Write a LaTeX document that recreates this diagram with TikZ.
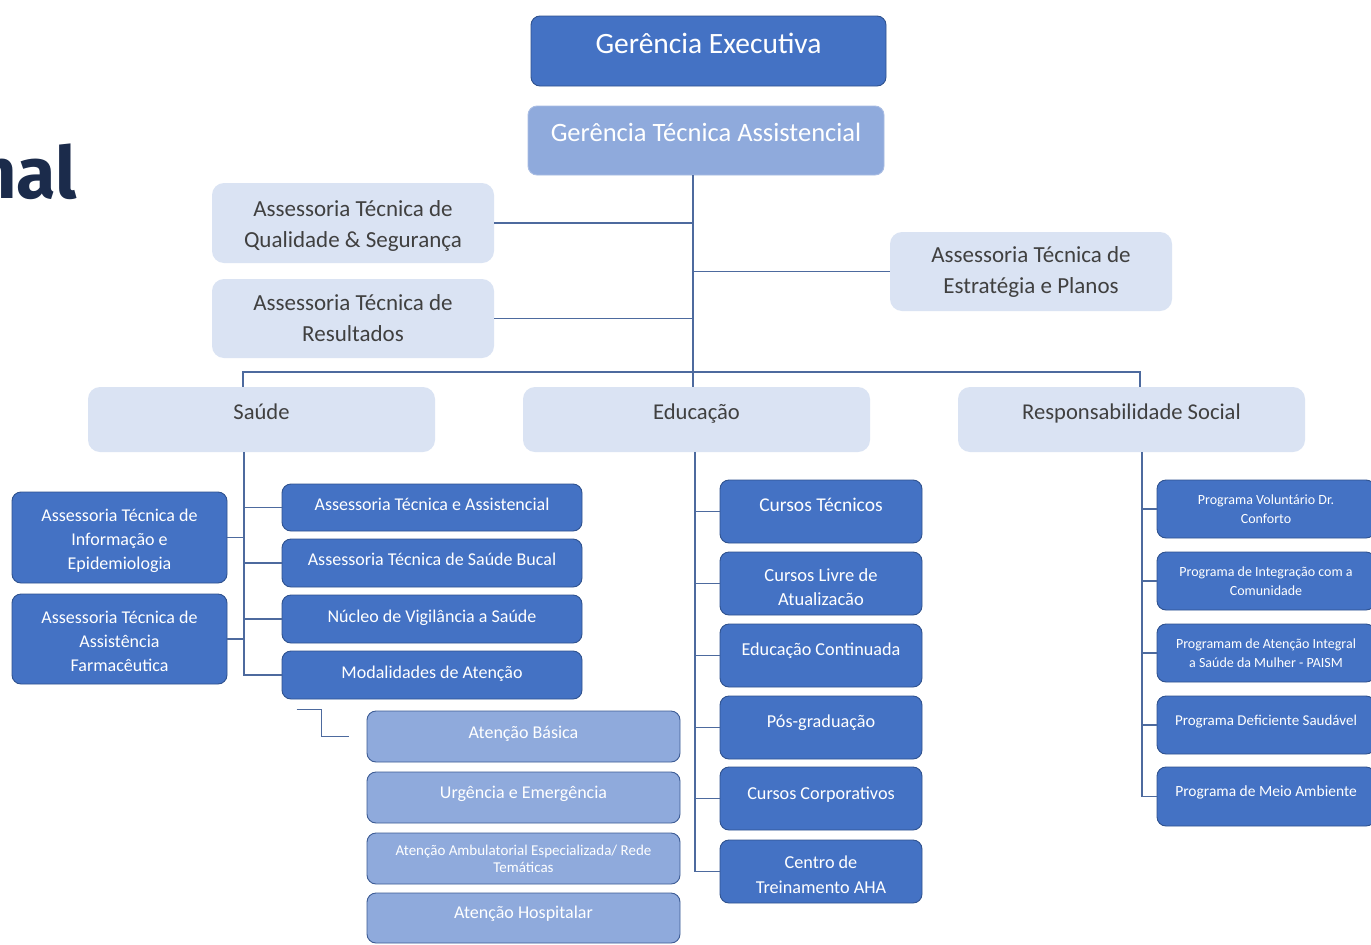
\documentclass[tikz,border=0pt]{standalone}
\usepackage{fontspec}
\setmainfont{Carlito}
\newfontfamily\titlefont{Fira Sans}
\usepackage{tikz}

\definecolor{dkblue}{HTML}{4472C4}
\definecolor{dkline}{HTML}{2F528F}
\definecolor{midblue}{HTML}{8FAADC}
\definecolor{subline}{HTML}{3D5C95}
\definecolor{gtaline}{HTML}{A9BDE3}
\definecolor{paleblue}{HTML}{DAE3F3}
\definecolor{paletext}{HTML}{404040}
\definecolor{connc}{HTML}{4D6A9E}
\definecolor{titlec}{HTML}{1B2B4B}

\begin{document}
\begin{tikzpicture}[x=1pt,y=-1pt,
	conn/.style={draw=connc,line width=1.4pt},
	dark/.style={draw=dkline,fill=dkblue,text=white,line width=0.9pt,rounded corners=9pt},
	mid/.style={draw=subline,fill=midblue,text=white,line width=0.9pt,rounded corners=9pt},
	pale/.style={fill=paleblue,text=paletext,rounded corners=12pt},
	sz/.style 2 args={minimum width=#1,minimum height=#2,inner sep=0pt},
	bl/.style={text height=#1,text depth=0pt}, bl/.default=0pt,
	fs/.style 2 args={font=\fontsize{#1}{#2}\selectfont,align=center}]
	\useasboundingbox (0,0) rectangle (1371,945);
	\fill[white] (0,0) rectangle (1371,945);
	\node[anchor=base east,inner sep=0pt,text=titlec,font=\titlefont\bfseries\fontsize{72}{80}\selectfont] (ttl) at (77,198) {nal};
	% top of the chart
	\node[dark,sz={355}{70},bl=4pt,fs={29.5}{34}] (ge) at (708.5,51) {Gerência Executiva};
	\node[mid,draw=gtaline,sz={356}{69},bl=2pt,fs={26.5}{30}] (gta) at (706,140.5) {Gerência Técnica Assistencial};
	\node[pale,sz={282}{80},fs={23}{31}] (qual) at (353,223) {\rule{0pt}{22pt}Assessoria Técnica de\\Qualidade \& Segurança};
	\node[pale,sz={282}{79},fs={23}{31}] (res) at (353,318.5) {Assessoria Técnica de\\Resultados};
	\node[pale,sz={282}{79},fs={23}{31}] (estr) at (1031,271.5) {Assessoria Técnica de\\Estratégia e Planos};
	\node[pale,sz={347}{65},bl,fs={22.6}{27}] (saude) at (261.5,419.5) {Saúde};
	\node[pale,sz={347}{65},bl,fs={22.6}{27}] (educ) at (696.5,419.5) {Educação};
	\node[pale,sz={347}{65},bl,fs={22.6}{27}] (resp) at (1131.5,419.5) {Responsabilidade Social};
	% saude
	\node[dark,sz={300}{47},bl=5pt,fs={18}{24}] (ata) at (432,507.5) {Assessoria Técnica e Assistencial};
	\node[dark,sz={300}{48},bl=4pt,fs={18}{24}] (bucal) at (432,563) {Assessoria Técnica de Saúde Bucal};
	\node[dark,sz={300}{48},bl=7pt,fs={18}{24}] (nucleo) at (432,619) {Núcleo de Vigilância a Saúde};
	\node[dark,sz={300}{48},bl=6pt,fs={18}{24}] (modal) at (432,675) {Modalidades de Atenção};
	\node[dark,sz={215}{91},fs={18}{24}] (info) at (119.5,537.5) {\rule{0pt}{19pt}Assessoria Técnica de\\Informação e\\Epidemiologia};
	\node[dark,sz={215}{90},fs={18}{24}] (farm) at (119.5,639) {\rule{0pt}{17.5pt}Assessoria Técnica de\\Assistência\\Farmacêutica};
	\node[mid,sz={313}{51},bl=3pt,fs={18}{24}] (basica) at (523.5,736.5) {Atenção Básica};
	\node[mid,sz={313}{51},bl=1pt,fs={18}{24}] (urg) at (523.5,797.5) {Urgência e Emergência};
	\node[mid,sz={313}{51},fs={15}{17}] (amb) at (523.5,858.5) {Atenção Ambulatorial Especializada/ Rede\\Temáticas};
	\node[mid,sz={313}{50},bl,fs={18}{24}] (hosp) at (523.5,918) {Atenção Hospitalar};
	% educacao
	\node[dark,sz={202}{63},bl,fs={19.5}{24}] (ct) at (821,511.5) {Cursos Técnicos};
	\node[dark,sz={202}{63},fs={18.5}{24}] (clv) at (821,583.5) {\rule{0pt}{21pt}Cursos Livre de\\Atualizacão};
	\node[dark,sz={202}{63},bl,fs={18.2}{24}] (ec) at (821,655.5) {Educação Continuada};
	\node[dark,sz={202}{63},bl,fs={18.2}{24}] (pg) at (821,727.5) {Pós-graduação};
	\node[dark,sz={202}{63},bl=1pt,fs={18.2}{24}] (cc) at (821,798.5) {Cursos Corporativos};
	\node[dark,sz={202}{63},fs={18.2}{24.5}] (cta) at (821,871.5) {\rule{0pt}{19.5pt}Centro de\\Treinamento AHA};
	% responsabilidade social
	\node[dark,sz={218}{58},fs={14}{19.5}] (pv) at (1266,509) {Programa Voluntário Dr.\\Conforto};
	\node[dark,sz={218}{58},fs={14}{19.5}] (pi) at (1266,581) {Programa de Integração com a\\Comunidade};
	\node[dark,sz={218}{58},fs={14}{19.5}] (pa) at (1266,653) {Programam de Atenção Integral\\a Saúde da Mulher - PAISM};
	\node[dark,sz={218}{58},bl,fs={15}{18}] (pd) at (1266,725) {Programa Deficiente Saudável};
	\node[dark,sz={218}{59},bl,fs={15.5}{18}] (pm) at (1266,796.5) {Programa de Meio Ambiente};
	% lines
	\coordinate (bus) at (693,372);
	\draw[conn] (gta.south -| bus) -- (educ.north -| bus);
	\foreach \n in {qual,res} \draw[conn] (\n.east) -- (\n.east -| bus);
	\draw[conn] (estr.west) -- (estr.west -| bus);
	\draw[conn] (saude.north -| 243,0) |- (bus) -| (resp.north -| 1140,0);
	\draw[conn] (saude.south -| 244,0) |- (modal.west);
	\foreach \n in {ata,bucal,nucleo} \draw[conn] (\n.west) -- (\n.west -| 244,0);
	\foreach \n in {info,farm} \draw[conn] (\n.east) -- (\n.east -| 244,0);
	\draw[conn] ([shift={(15,10)}]modal.south west) -| ([xshift=-45]basica.west) -- ([xshift=-18]basica.west);
	\draw[conn] (educ.south -| 695,0) |- (cta.west);
	\foreach \n in {ct,clv,ec,pg,cc} \draw[conn] (\n.west) -- (\n.west -| 695,0);
	\draw[conn] (resp.south -| 1142,0) |- (pm.west);
	\foreach \n in {pv,pi,pa,pd} \draw[conn] (\n.west) -- (\n.west -| 1142,0);
\end{tikzpicture}
\end{document}
